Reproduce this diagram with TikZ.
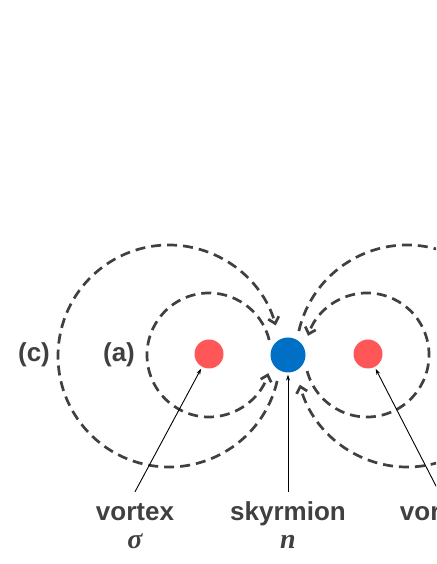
\documentclass[tikz,border=0pt]{standalone}
\usepackage{fontspec}
\setsansfont{Liberation Sans}
\newfontfamily\symfont{Liberation Serif}
\usetikzlibrary{arrows.meta,positioning}
\definecolor{linegray}{HTML}{404040}
\definecolor{vortexred}{HTML}{FF5757}
\definecolor{skyblue}{HTML}{0070C6}

\begin{document}
\begin{tikzpicture}[x=1pt, y=1pt,
  dot/.style={circle, inner sep=0pt},
  field/.style={linegray, line width=2.7pt, dash pattern=on 10pt off 6pt, -{Straight Barb[length=6pt,width=11pt]}},
  pointer/.style={-{Stealth[length=6pt,width=4pt]}, line width=0.9pt, shorten >=2pt},
  casetag/.style={font=\sffamily\bfseries\fontsize{26}{30}\selectfont, text=linegray, inner sep=0pt},
  partlabel/.style={casetag, anchor=base, text height=18pt, inner ysep=11pt},
  symlabel/.style={font=\symfont\bfseries\itshape\fontsize{28}{30}\selectfont, text=linegray, anchor=base, inner sep=0pt},
]
\useasboundingbox (0,0) rectangle (436,564);
\clip (0,0) rectangle (436,564);

% === Field lines ===
\draw[field] (169,208) ++(347:111) arc[start angle=347, end angle=16, radius=111];
\draw[field] (209,209) ++(14:62) arc[start angle=14, end angle=343, radius=62];
\draw[field] (367,209) ++(-165:62) arc[start angle=-165, end angle=162, radius=62];
\draw[field] (407,208) ++(167:111) arc[start angle=167, end angle=-165, radius=111];

% === Vortices and skyrmion ===
\node[dot, minimum size=29pt, fill=vortexred] (vortexL) at (209,210) {};
\node[dot, minimum size=35pt, fill=skyblue] (skyrm) at (288,209) {};
\node[dot, minimum size=29pt, fill=vortexred] (vortexR) at (368,210) {};

\node[casetag] (tagC) at (34,209) {(c)};
\node[casetag] (tagA) at (119,209) {(a)};

% === Labels ===
\node[partlabel] (labVL) at (135,43) {vortex};
\node[partlabel] (labSk) at (288,43) {skyrmion};
\node[partlabel] (labVR) at (439,43) {vortex};
\node[symlabel] (symVL) at (135,15) {σ};
\node[symlabel] (symSk) at (288,15) {n};

\draw[pointer] (labVL.north) -- (vortexL);
\draw[pointer] (labSk.north) -- (skyrm);
\draw[pointer] (labVR.north) -- (vortexR);

\end{tikzpicture}
\end{document}
